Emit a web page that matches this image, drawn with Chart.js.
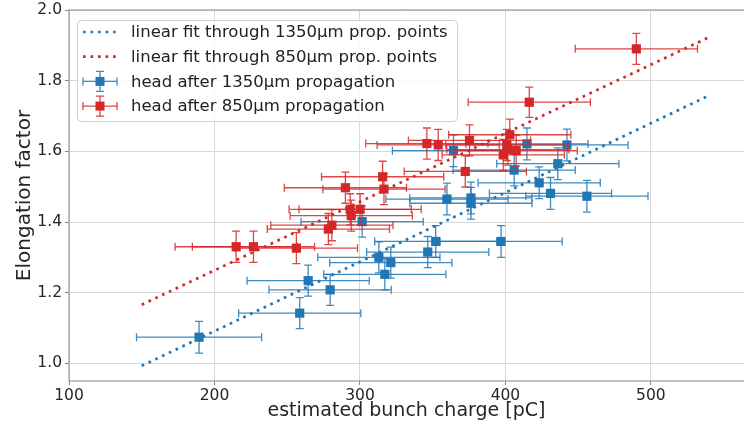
<!DOCTYPE html>
<html>
<head>
<meta charset="utf-8">
<title>Elongation factor vs bunch charge</title>
<script src="https://cdn.jsdelivr.net/npm/chart.js@4.4.1/dist/chart.umd.min.js"></script>
<style>
  html, body { margin: 0; padding: 0; background: #fff; }
  #wrap { width: 744px; height: 425px; }
</style>
</head>
<body>
<div id="wrap"><canvas id="elongChart" width="744" height="425"></canvas></div>
<script>
// head after 1350um propagation (blue)
var charge1350 = [189.4, 258.6, 264.4, 279.5, 301.5, 313.0, 317.1, 321.2, 346.6, 352.1, 359.8,
                  364.3, 376.3, 376.3, 397.0, 406.0, 414.8, 423.2, 431.0, 436.0, 442.3, 456.0];
var elong1350  = [1.074, 1.142, 1.234, 1.208, 1.401, 1.300, 1.252, 1.285, 1.315, 1.345, 1.465,
                  1.602, 1.468, 1.453, 1.345, 1.547, 1.621, 1.511, 1.481, 1.565, 1.618, 1.473];
var chargeErr1350 = [43, 42, 42, 42, 42, 42, 42, 42, 42, 42, 42,
                     42, 42, 42, 42, 42, 42, 42, 42, 42, 42, 42];
var elongErr1350  = [0.045, 0.044, 0.044, 0.044, 0.044, 0.044, 0.044, 0.044, 0.044, 0.045, 0.045,
                     0.045, 0.045, 0.045, 0.045, 0.045, 0.045, 0.045, 0.045, 0.045, 0.045, 0.045];

// head after 850um propagation (red)
var charge850 = [214.9, 226.8, 256.3, 278.3, 280.7, 290.0, 293.3, 294.0, 300.1, 315.6, 316.5,
                 346.0, 353.8, 372.4, 375.3, 398.5, 401.0, 401.7, 403.0, 407.4, 416.4, 490.0];
var elong850  = [1.330, 1.330, 1.326, 1.380, 1.391, 1.497, 1.436, 1.418, 1.436, 1.528, 1.493,
                 1.622, 1.618, 1.543, 1.631, 1.590, 1.618, 1.605, 1.647, 1.602, 1.739, 1.890];
var chargeErr850 = [42, 42, 42, 42, 42, 42, 42, 42, 42, 42, 42,
                    42, 42, 42, 42, 42, 42, 42, 42, 42, 42, 42];
var elongErr850  = [0.044, 0.044, 0.044, 0.044, 0.044, 0.044, 0.044, 0.044, 0.044, 0.044, 0.044,
                    0.044, 0.044, 0.044, 0.044, 0.044, 0.044, 0.044, 0.044, 0.044, 0.043, 0.044];

// linear fits (end points)
var fitCharge = [150, 540];
var fit1350 = [0.993, 1.758];
var fit850 = [1.166, 1.923];

var yTicks = [1.0, 1.2, 1.4, 1.6, 1.8, 2.0];
var xTicks = [100, 200, 300, 400, 500];

var BLUE = '#1f77b4';
var RED = '#d62728';
var FONT = '"DejaVu Sans", Verdana, sans-serif';

function toPoints(xs, ys) {
    return xs.map(function(x, i) { return { x: x, y: ys[i] }; });
}

// draws the x/y error bars of a dataset just before its markers
var errorBars = {
    id: 'errorBars',
    beforeDatasetDraw: function(chart, args) {
        var ds = chart.data.datasets[args.index];
        if (!ds.errX) return;
        var xs = chart.scales.x, ys = chart.scales.y, ctx = chart.ctx;
        var cap = 4;
        ctx.save();
        ctx.strokeStyle = ds.errColor;
        ctx.lineWidth = 1.3;
        ds.data.forEach(function(p, i) {
            var px = xs.getPixelForValue(p.x), py = ys.getPixelForValue(p.y);
            var x0 = xs.getPixelForValue(p.x - ds.errX[i]), x1 = xs.getPixelForValue(p.x + ds.errX[i]);
            var y0 = ys.getPixelForValue(p.y - ds.errY[i]), y1 = ys.getPixelForValue(p.y + ds.errY[i]);
            ctx.beginPath();
            ctx.moveTo(x0, py); ctx.lineTo(x1, py);
            ctx.moveTo(px, y0); ctx.lineTo(px, y1);
            ctx.moveTo(x0, py - cap); ctx.lineTo(x0, py + cap);
            ctx.moveTo(x1, py - cap); ctx.lineTo(x1, py + cap);
            ctx.moveTo(px - cap, y0); ctx.lineTo(px + cap, y0);
            ctx.moveTo(px - cap, y1); ctx.lineTo(px + cap, y1);
            ctx.stroke();
        });
        ctx.restore();
    }
};

// axes frame + matplotlib-like legend box in the upper left
var frameAndLegend = {
    id: 'frameAndLegend',
    afterDatasetsDraw: function(chart) {
        var a = chart.chartArea, ctx = chart.ctx;
        ctx.save();
        ctx.strokeStyle = '#9a9a9a';
        ctx.lineWidth = 1.2;
        ctx.strokeRect(a.left, a.top, a.right - a.left + 2, a.bottom - a.top);
        ctx.restore();
    },
    afterDraw: function(chart) {
        var a = chart.chartArea, ctx = chart.ctx;
        var bx = a.left + 8, by = a.top + 10, bw = 380, bh = 101;
        ctx.save();
        ctx.fillStyle = 'rgba(255,255,255,0.85)';
        ctx.strokeStyle = '#d0d0d0';
        ctx.lineWidth = 1;
        ctx.beginPath();
        ctx.roundRect(bx + 0.5, by + 0.5, bw, bh, 4);
        ctx.fill();
        ctx.stroke();

        var order = [2, 3, 0, 1];
        order.forEach(function(idx, row) {
            var ds = chart.data.datasets[idx];
            var y = by + 12 + row * 24.7;
            var hx0 = bx + 6, hx1 = bx + 40, hc = (hx0 + hx1) / 2;
            ctx.save();
            if (ds.errX) {
                ctx.strokeStyle = ds.errColor;
                ctx.lineWidth = 1.3;
                ctx.beginPath();
                ctx.moveTo(hx0, y); ctx.lineTo(hx1, y);
                ctx.moveTo(hx0, y - 4); ctx.lineTo(hx0, y + 4);
                ctx.moveTo(hx1, y - 4); ctx.lineTo(hx1, y + 4);
                ctx.moveTo(hc, y - 10); ctx.lineTo(hc, y + 10);
                ctx.moveTo(hc - 4, y - 10); ctx.lineTo(hc + 4, y - 10);
                ctx.moveTo(hc - 4, y + 10); ctx.lineTo(hc + 4, y + 10);
                ctx.stroke();
                ctx.fillStyle = ds.backgroundColor;
                ctx.fillRect(hc - 4.5, y - 4.5, 9, 9);
            } else {
                ctx.strokeStyle = ds.borderColor;
                ctx.lineWidth = ds.borderWidth;
                ctx.setLineDash(ds.borderDash);
                ctx.beginPath();
                ctx.moveTo(hx0, y); ctx.lineTo(hx1, y);
                ctx.stroke();
            }
            ctx.restore();
            ctx.fillStyle = '#222';
            ctx.font = '16.5px ' + FONT;
            ctx.textBaseline = 'middle';
            ctx.fillText(ds.label, bx + 54, y + 1);
        });
        ctx.restore();
    }
};

var ctx = document.getElementById('elongChart').getContext('2d');
var elongChart = new Chart(ctx, {
    type: 'scatter',
    data: {
        datasets: [
            {
                label: 'head after 1350\u00b5m propagation',
                data: toPoints(charge1350, elong1350),
                errX: chargeErr1350, errY: elongErr1350,
                errColor: 'rgba(31,119,180,0.85)',
                backgroundColor: BLUE, borderColor: BLUE,
                pointStyle: 'rect', pointRadius: 6.5, pointBorderWidth: 0,
                order: 2
            },
            {
                label: 'head after 850\u00b5m propagation',
                data: toPoints(charge850, elong850),
                errX: chargeErr850, errY: elongErr850,
                errColor: 'rgba(214,39,40,0.85)',
                backgroundColor: RED, borderColor: RED,
                pointStyle: 'rect', pointRadius: 6.5, pointBorderWidth: 0,
                order: 1
            },
            {
                type: 'line',
                label: 'linear fit through 1350\u00b5m prop. points',
                data: toPoints(fitCharge, fit1350),
                borderColor: BLUE, borderWidth: 2.7, borderDash: [2.7, 4.8],
                pointRadius: 0, fill: false, order: 4
            },
            {
                type: 'line',
                label: 'linear fit through 850\u00b5m prop. points',
                data: toPoints(fitCharge, fit850),
                borderColor: RED, borderWidth: 2.7, borderDash: [2.7, 4.8],
                pointRadius: 0, fill: false, order: 3
            }
        ]
    },
    options: {
        responsive: false,
        animation: false,
        layout: { autoPadding: false, padding: { top: 10, right: 0, left: 0, bottom: 0 } },
        plugins: {
            legend: { display: false },
            tooltip: { enabled: false }
        },
        scales: {
            x: {
                type: 'linear',
                min: 100, max: 564,
                afterFit: function(scale) {
                    scale.height = 44;
                    scale.paddingLeft = 0;
                    scale.paddingRight = 0;
                },
                afterBuildTicks: function(scale) {
                    scale.ticks = xTicks.map(function(v) { return { value: v }; });
                },
                grid: { color: '#d8d8d8', lineWidth: 1, tickLength: 4, tickColor: '#888' },
                border: { display: false },
                ticks: { color: '#262626', font: { family: FONT, size: 15.5 }, padding: 2, maxRotation: 0 },
                title: {
                    display: true, text: 'estimated bunch charge [pC]',
                    color: '#262626', font: { family: FONT, size: 19 },
                    padding: { top: 0, bottom: 3 }
                }
            },
            y: {
                type: 'linear',
                min: 0.95, max: 2.0,
                afterFit: function(scale) {
                    scale.width = 69;
                    scale.paddingTop = 0;
                    scale.paddingBottom = 0;
                },
                afterBuildTicks: function(scale) {
                    scale.ticks = yTicks.map(function(v) { return { value: v }; });
                },
                grid: { color: '#d8d8d8', lineWidth: 1, tickLength: 4, tickColor: '#888' },
                border: { display: false },
                ticks: {
                    color: '#262626', font: { family: FONT, size: 15.5 }, padding: 3,
                    callback: function(v) { return v.toFixed(1); }
                },
                title: {
                    display: true, text: 'Elongation factor',
                    color: '#262626', font: { family: FONT, size: 20 },
                    padding: { top: 13, bottom: 0 }
                }
            }
        }
    },
    plugins: [errorBars, frameAndLegend]
});
</script>
</body>
</html>
